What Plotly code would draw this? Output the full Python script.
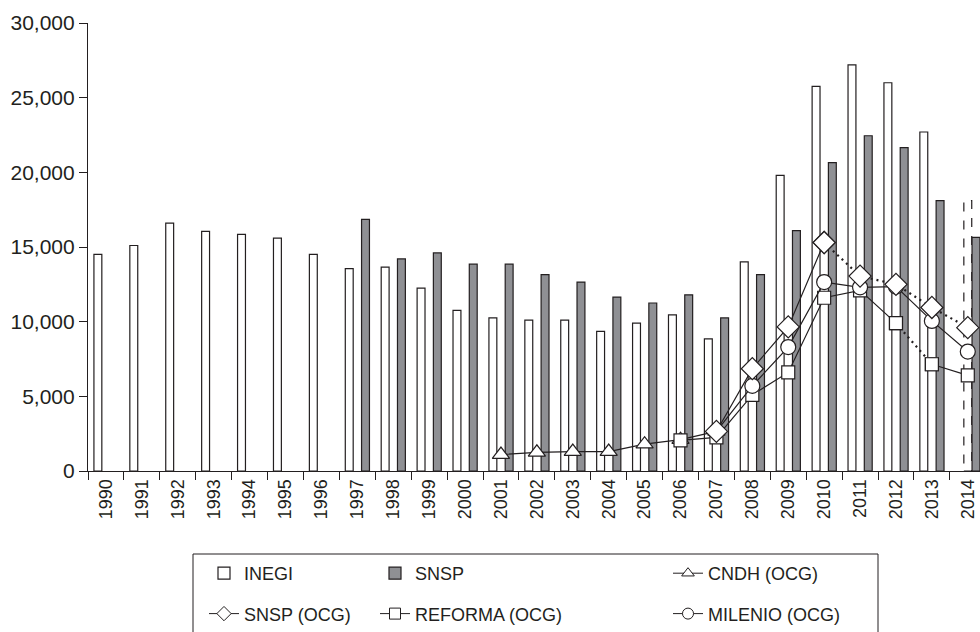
import plotly.graph_objects as go

# ---------------- data ----------------
years = list(range(1990, 2015))
year_labels = [str(y) for y in years]

inegi = [14500, 15100, 16600, 16050, 15850, 15600, 14500, 13550, 13650, 12250,
         10750, 10250, 10100, 10100, 9350, 9900, 10450, 8850, 14000, 19800,
         25750, 27200, 26000, 22700, None]
inegi_2014_estimate = 18100  # drawn as dashed outline

snsp = [None, None, None, None, None, None, None, 16850, 14200, 14600,
        13850, 13850, 13150, 12650, 11650, 11250, 11800, 10250, 13150, 16100,
        20650, 22450, 21650, 18100, 15650]

cndh_ocg = {2001: 1100, 2002: 1250, 2003: 1300, 2004: 1300, 2005: 1800,
            2006: 2100, 2007: 2650}
snsp_ocg = {2007: 2650, 2008: 6850, 2009: 9650, 2010: 15300, 2011: 13050,
            2012: 12500, 2013: 10950, 2014: 9600}
reforma_ocg = {2006: 2050, 2007: 2250, 2008: 5100, 2009: 6600, 2010: 11600,
               2011: 12100, 2012: 9900, 2013: 7150, 2014: 6400}
milenio_ocg = {2007: 2650, 2008: 5700, 2009: 8300, 2010: 12650, 2011: 12300,
               2012: 12350, 2013: 10050, 2014: 8000}

y_ticks = [0, 5000, 10000, 15000, 20000, 25000, 30000]

# line style segments (year ranges)
snsp_ocg_segments = [((2007, 2010), "solid"), ((2010, 2014), "dot")]
reforma_segments = [((2006, 2012), "solid"), ((2012, 2013), "dot"), ((2013, 2014), "solid")]
milenio_segments = [((2007, 2014), "solid")]
cndh_segments = [((2001, 2007), "solid")]

# ---------------- style ----------------
INK = "#231f20"
GREY = "#8f9094"
FONT = "Liberation Sans, Arial, sans-serif"
BAR_W = 0.22

fig = go.Figure()

fig.add_trace(go.Bar(
    x=year_labels, y=inegi, name="INEGI", width=BAR_W, offset=-0.335,
    marker=dict(color="white", line=dict(color=INK, width=1.2)),
    legend="legend", legendgroup="a", legendrank=1,
))
fig.add_trace(go.Bar(
    x=year_labels, y=snsp, name="SNSP", width=BAR_W, offset=0.118,
    marker=dict(color=GREY, line=dict(color=INK, width=1.2)),
    legend="legend2", legendgroup="b", legendrank=1,
))


def add_series(data, segments, name, symbol, size, legend, group):
    for (a, b), dash in segments:
        xs = [str(y) for y in years if y in data and a <= y <= b]
        ys = [data[y] for y in years if y in data and a <= y <= b]
        dotted = dash != "solid"
        fig.add_trace(go.Scatter(
            x=xs, y=ys, mode="lines+markers", name=name,
            line=dict(color=INK, width=2.2 if dotted else 1.2,
                      dash="2px,4px" if dotted else "solid"),
            marker=dict(symbol=symbol, size=size, color="white",
                        line=dict(color=INK, width=1.2)),
            showlegend=False, legendgroup=group,
        ))
    # legend key (no data points)
    fig.add_trace(go.Scatter(
        x=[None], y=[None], mode="lines+markers", name=name,
        line=dict(color=INK, width=1),
        marker=dict(symbol=symbol, size=11, color="white",
                    line=dict(color=INK, width=1)),
        showlegend=True, legend=legend, legendgroup=group, legendrank=2,
    ))


add_series(cndh_ocg, cndh_segments, "CNDH (OCG)", "triangle-up", 15, "legend3", "c")
add_series(reforma_ocg, reforma_segments, "REFORMA (OCG)", "square", 13, "legend2", "e")
add_series(milenio_ocg, milenio_segments, "MILENIO (OCG)", "circle", 15, "legend3", "f")
add_series(snsp_ocg, snsp_ocg_segments, "SNSP (OCG)", "diamond", 17, "legend", "d")

# dashed outline for the 2014 INEGI estimate
x14 = years.index(2014)
fig.add_shape(type="rect", xref="x", yref="y",
              x0=x14 - BAR_W / 2, x1=x14 + BAR_W / 2, y0=0, y1=inegi_2014_estimate,
              line=dict(color=INK, width=1.2, dash="dash"), fillcolor="rgba(0,0,0,0)",
              layer="below")

# legend frame
fig.add_shape(type="rect", xref="paper", yref="paper",
              x0=(193 - 88) / 892, x1=(878 - 88) / 892,
              y0=(471 - 640) / 448, y1=(471 - 554) / 448,
              line=dict(color=INK, width=1), fillcolor="rgba(0,0,0,0)")

leg_common = dict(orientation="v", xanchor="left", yanchor="top",
                  font=dict(family=FONT, size=18, color=INK),
                  bgcolor="rgba(0,0,0,0)", borderwidth=0,
                  traceorder="grouped", tracegroupgap=14)
leg_y = (471 - 555) / 448

fig.update_layout(
    width=980, height=632,
    margin=dict(l=88, r=0, t=23, b=161, autoexpand=False),
    paper_bgcolor="white", plot_bgcolor="white",
    barmode="overlay",
    font=dict(family=FONT, color=INK),
    xaxis=dict(
        type="category", range=[-0.5, 24.34], tickson="boundaries",
        ticks="outside", ticklen=8, tickcolor=INK, tickwidth=1.2,
        showline=True, linecolor=INK, linewidth=1.2, showgrid=False,
        tickangle=-90, tickfont=dict(family=FONT, size=18, color=INK),
        automargin=False,
    ),
    yaxis=dict(
        range=[0, 30000], tickvals=y_ticks, tickformat=",",
        ticks="outside", ticklen=8, tickcolor=INK, tickwidth=1.2,
        showline=True, linecolor=INK, linewidth=1.2, showgrid=False,
        zeroline=False, tickfont=dict(family=FONT, size=21, color=INK),
        automargin=False,
    ),
    legend=dict(x=(204 - 88) / 892, y=leg_y, **leg_common),
    legend2=dict(x=(375 - 88) / 892, y=leg_y, **leg_common),
    legend3=dict(x=(668 - 88) / 892, y=leg_y, **leg_common),
)

fig.write_html("out.html",
               config={"displayModeBar": False},
               post_script="document.body.style.margin='0px';"
                           "document.body.style.overflow='hidden';")
